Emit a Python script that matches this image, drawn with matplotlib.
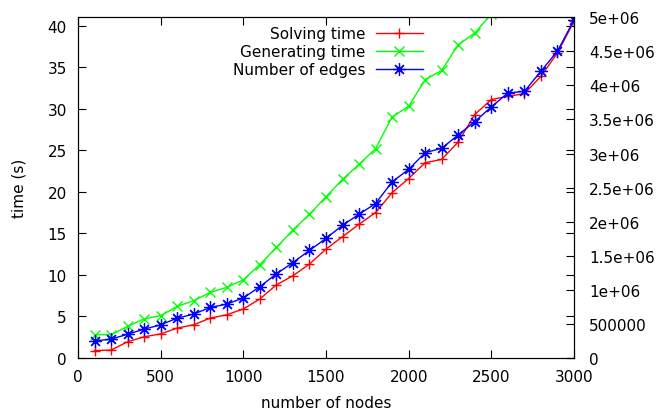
import matplotlib.pyplot as plt

# nodes in the graph
nodes = [100, 200, 300, 400, 500, 600, 700, 800, 900, 1000,
         1100, 1200, 1300, 1400, 1500, 1600, 1700, 1800, 1900, 2000,
         2100, 2200, 2300, 2400, 2500, 2600, 2700, 2800, 2900, 3000]

# solving time (s)
solving = [0.9, 0.95, 1.95, 2.55, 2.9, 3.6, 4.0, 4.8, 5.2, 5.9,
           7.1, 8.8, 9.9, 11.3, 13.1, 14.6, 16.1, 17.5, 19.9, 21.6,
           23.5, 23.9, 26.0, 29.3, 31.1, 31.5, 31.8, 33.9, 36.7, 40.5]

# generating time (s), leaves the plot after 2400
gen_nodes = nodes[:25]
generating = [2.8, 2.8, 3.8, 4.7, 5.1, 6.2, 6.9, 7.9, 8.5, 9.4,
              11.25, 13.3, 15.4, 17.3, 19.4, 21.5, 23.3, 25.2, 29.0, 30.3,
              33.5, 34.6, 37.7, 39.1, 41.4]

# number of edges
edges = [250000, 276000, 349000, 423000, 487000, 585000, 644000, 742000, 791000, 880000,
         1047000, 1234000, 1401000, 1578000, 1755000, 1947000, 2109000, 2267000, 2585000, 2768000,
         3013000, 3078000, 3274000, 3470000, 3683000, 3889000, 3913000, 4208000, 4503000, 4960000]

y2_ticks = [0, 500000, 1000000, 1500000, 2000000, 2500000, 3000000, 3500000, 4000000, 4500000, 5000000]
y2_labels = ['0', '500000', '1e+06', '1.5e+06', '2e+06', '2.5e+06', '3e+06',
             '3.5e+06', '4e+06', '4.5e+06', '5e+06']

plt.rcParams['font.family'] = 'DejaVu Sans'
plt.rcParams['font.size'] = 11

fig = plt.figure(figsize=(6.58, 4.10), dpi=100)
ax = fig.add_axes([0.1185, 0.1244, 0.7538, 0.831])
ax2 = ax.twinx()

l1, = ax.plot(nodes, solving, color='#ff0000', marker='+', markersize=7.5,
              markeredgewidth=1, linewidth=1, label='Solving time')
l2, = ax.plot(gen_nodes, generating, color='#00ff00', marker='x', markersize=7.5,
              markeredgewidth=1, linewidth=1, label='Generating time')
l3, = ax2.plot(nodes, edges, color='#0000ff', marker=(8, 2, 0), markersize=9,
               markeredgewidth=0.9, linewidth=1, label='Number of edges')

ax.set_xlim(0, 3000)
ax.set_ylim(0, 41)
ax2.set_ylim(0, 5000000)
ax.set_xticks(range(0, 3001, 500))
ax.set_yticks(range(0, 41, 5))
ax2.set_yticks(y2_ticks)
ax2.set_yticklabels(y2_labels)

ax.tick_params(direction='in', length=6, top=True, right=True)
ax.tick_params(axis='x', pad=8)
ax.tick_params(axis='y', pad=8)
ax2.tick_params(direction='in', length=6, left=False, pad=11)

ax.set_xlabel('number of nodes', labelpad=8)
ax.set_ylabel('time (s)', labelpad=15)

ax2.legend(handles=[l1, l2, l3], loc='upper right',
           bbox_to_anchor=(423 / 658, 1 - 27.5 / 410), bbox_transform=fig.transFigure,
           frameon=False, markerfirst=False, handlelength=3.1,
           labelspacing=0.18, borderaxespad=0, borderpad=0, handletextpad=0.65)

fig.savefig('out.png', dpi=100)
